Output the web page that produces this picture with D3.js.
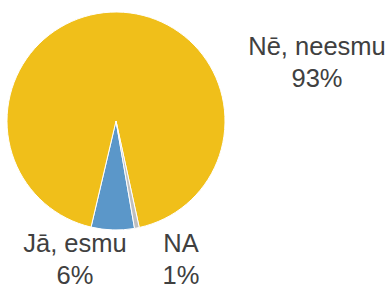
<!DOCTYPE html>
<html>
<head>
<meta charset="utf-8">
<script src="https://cdn.jsdelivr.net/npm/d3@7"></script>
<style>
  body { margin: 0; background: #fff; }
  svg { display: block; }
</style>
</head>
<body>
<div id="chart"></div>
<script>
// Daten
const categories = ["Jā, esmu", "Nē, neesmu", "NA"];
const values = [6.4, 92.9, 0.7];
const colors = ["#5b97c9", "#f0bf1a", "#bfbfbf"];

const width = 390;
const height = 286;
const radius = 109;
const cx = 116, cy = 121;

const svg = d3.select("#chart")
  .append("svg")
  .attr("width", width)
  .attr("height", height);

const g = svg.append("g")
  .attr("transform", `translate(${cx}, ${cy})`);

const pie = d3.pie()
  .sort(null)
  .value(d => d)
  .startAngle(170.2 * Math.PI / 180)
  .endAngle(170.2 * Math.PI / 180 + 2 * Math.PI);

const arc = d3.arc().innerRadius(0).outerRadius(radius);

const arcs = pie(values);

g.selectAll("path")
  .data(arcs)
  .join("path")
  .attr("d", arc)
  .attr("fill", (d, i) => colors[i])
  .attr("stroke", "#fff")
  .attr("stroke-width", 1);

// Beschriftungen
const labelPos = [[75, 252], [317, 55], [181, 252]];

categories.forEach((c, i) => {
  const t = svg.append("text")
    .attr("x", labelPos[i][0])
    .attr("y", labelPos[i][1])
    .attr("text-anchor", "middle")
    .style("font-family", "Liberation Sans, Arial, sans-serif")
    .style("font-size", "25.5px")
    .style("fill", "#404040");
  t.append("tspan").text(c);
  t.append("tspan")
    .attr("x", labelPos[i][0])
    .attr("dy", 32)
    .text(Math.round(values[i]) + "%");
});
</script>
</body>
</html>
